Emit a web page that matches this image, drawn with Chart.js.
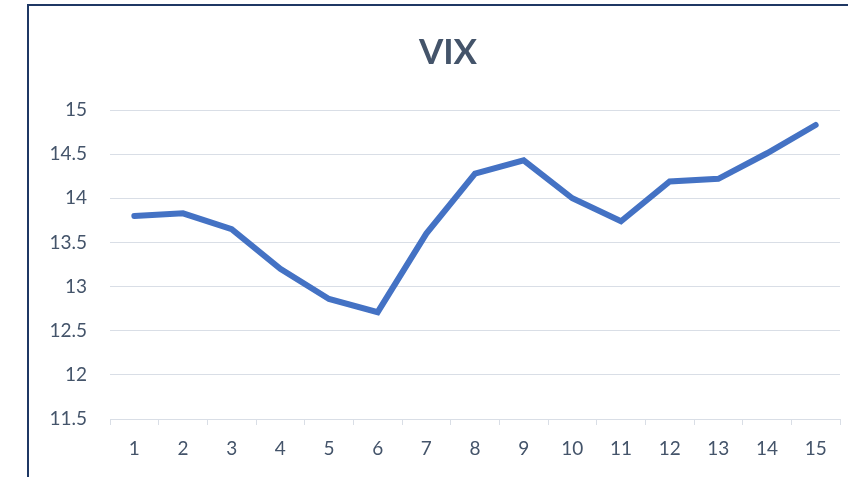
<!DOCTYPE html>
<html>
<head>
<meta charset="utf-8">
<script src="https://cdn.jsdelivr.net/npm/chart.js@4/dist/chart.umd.min.js"></script>
<style>
    html, body { margin: 0; padding: 0; background: #fff; }
    #wrap { position: relative; width: 848px; height: 477px; overflow: hidden; background: #fff; }
    #frame {
        position: absolute; left: 27px; top: 4px; width: 900px; height: 520px;
        border-left: 2px solid #1F3864; border-top: 2px solid #1F3864;
    }
    canvas { position: absolute; left: 0; top: 0; }
</style>
</head>
<body>
<div id="wrap">
    <div id="frame"></div>
    <!-- the chart object runs past the right edge, as in the cropped original -->
    <canvas id="vixChart" width="896" height="477"></canvas>
</div>
<script>
const categories = ['1', '2', '3', '4', '5', '6', '7', '8', '9', '10', '11', '12', '13', '14', '15'];
const vixValues = [13.80, 13.83, 13.65, 13.20, 12.86, 12.71, 13.60, 14.28, 14.43, 14.00, 13.74, 14.19, 14.22, 14.51, 14.83];
const yMin = 11.5;
const yMax = 15;
const yStep = 0.5;

const textColor = '#44546A';
const gridColor = '#D9DEE6';

const ctx = document.getElementById('vixChart').getContext('2d');
new Chart(ctx, {
    type: 'line',
    data: {
        labels: categories,
        datasets: [
            {
                label: 'VIX',
                data: vixValues,
                borderColor: '#4472C4',
                borderWidth: 6,
                borderCapStyle: 'round',
                borderJoinStyle: 'miter',
                pointRadius: 0,
                tension: 0,
                fill: false
            }
        ]
    },
    options: {
        responsive: false,
        animation: false,
        layout: {
            padding: { left: 0, right: 0, top: 0, bottom: 18 }
        },
        plugins: {
            legend: { display: false },
            tooltip: { enabled: false },
            title: {
                display: true,
                text: 'VIX',
                color: textColor,
                font: { family: 'Lato', size: 35, weight: 'bold', lineHeight: 1.0 },
                padding: { top: 35, bottom: 40 }
            }
        },
        scales: {
            x: {
                offset: true,
                grid: {
                    offset: true,
                    drawOnChartArea: false,
                    drawTicks: true,
                    tickLength: 6,
                    color: gridColor
                },
                border: { display: true, color: gridColor, width: 1 },
                ticks: {
                    color: textColor,
                    font: { family: 'Lato', size: 19 },
                    padding: 12,
                    maxRotation: 0,
                    autoSkip: false
                },
                afterFit: (scale) => { scale.height = 40; }
            },
            y: {
                min: yMin,
                max: yMax,
                grid: {
                    drawTicks: false,
                    color: gridColor,
                    lineWidth: 1
                },
                border: { display: false },
                ticks: {
                    stepSize: yStep,
                    color: textColor,
                    font: { family: 'Lato', size: 19 },
                    padding: 23,
                    callback: (value) => String(value)
                },
                afterFit: (scale) => { scale.width = 110; }
            },
            // empty right-hand spacer so the plot ends where the original does
            spacer: {
                type: 'linear',
                position: 'right',
                min: yMin,
                max: yMax,
                grid: { display: false },
                border: { display: false },
                ticks: { display: false },
                afterFit: (scale) => { scale.width = 56; }
            }
        }
    }
});
</script>
</body>
</html>
